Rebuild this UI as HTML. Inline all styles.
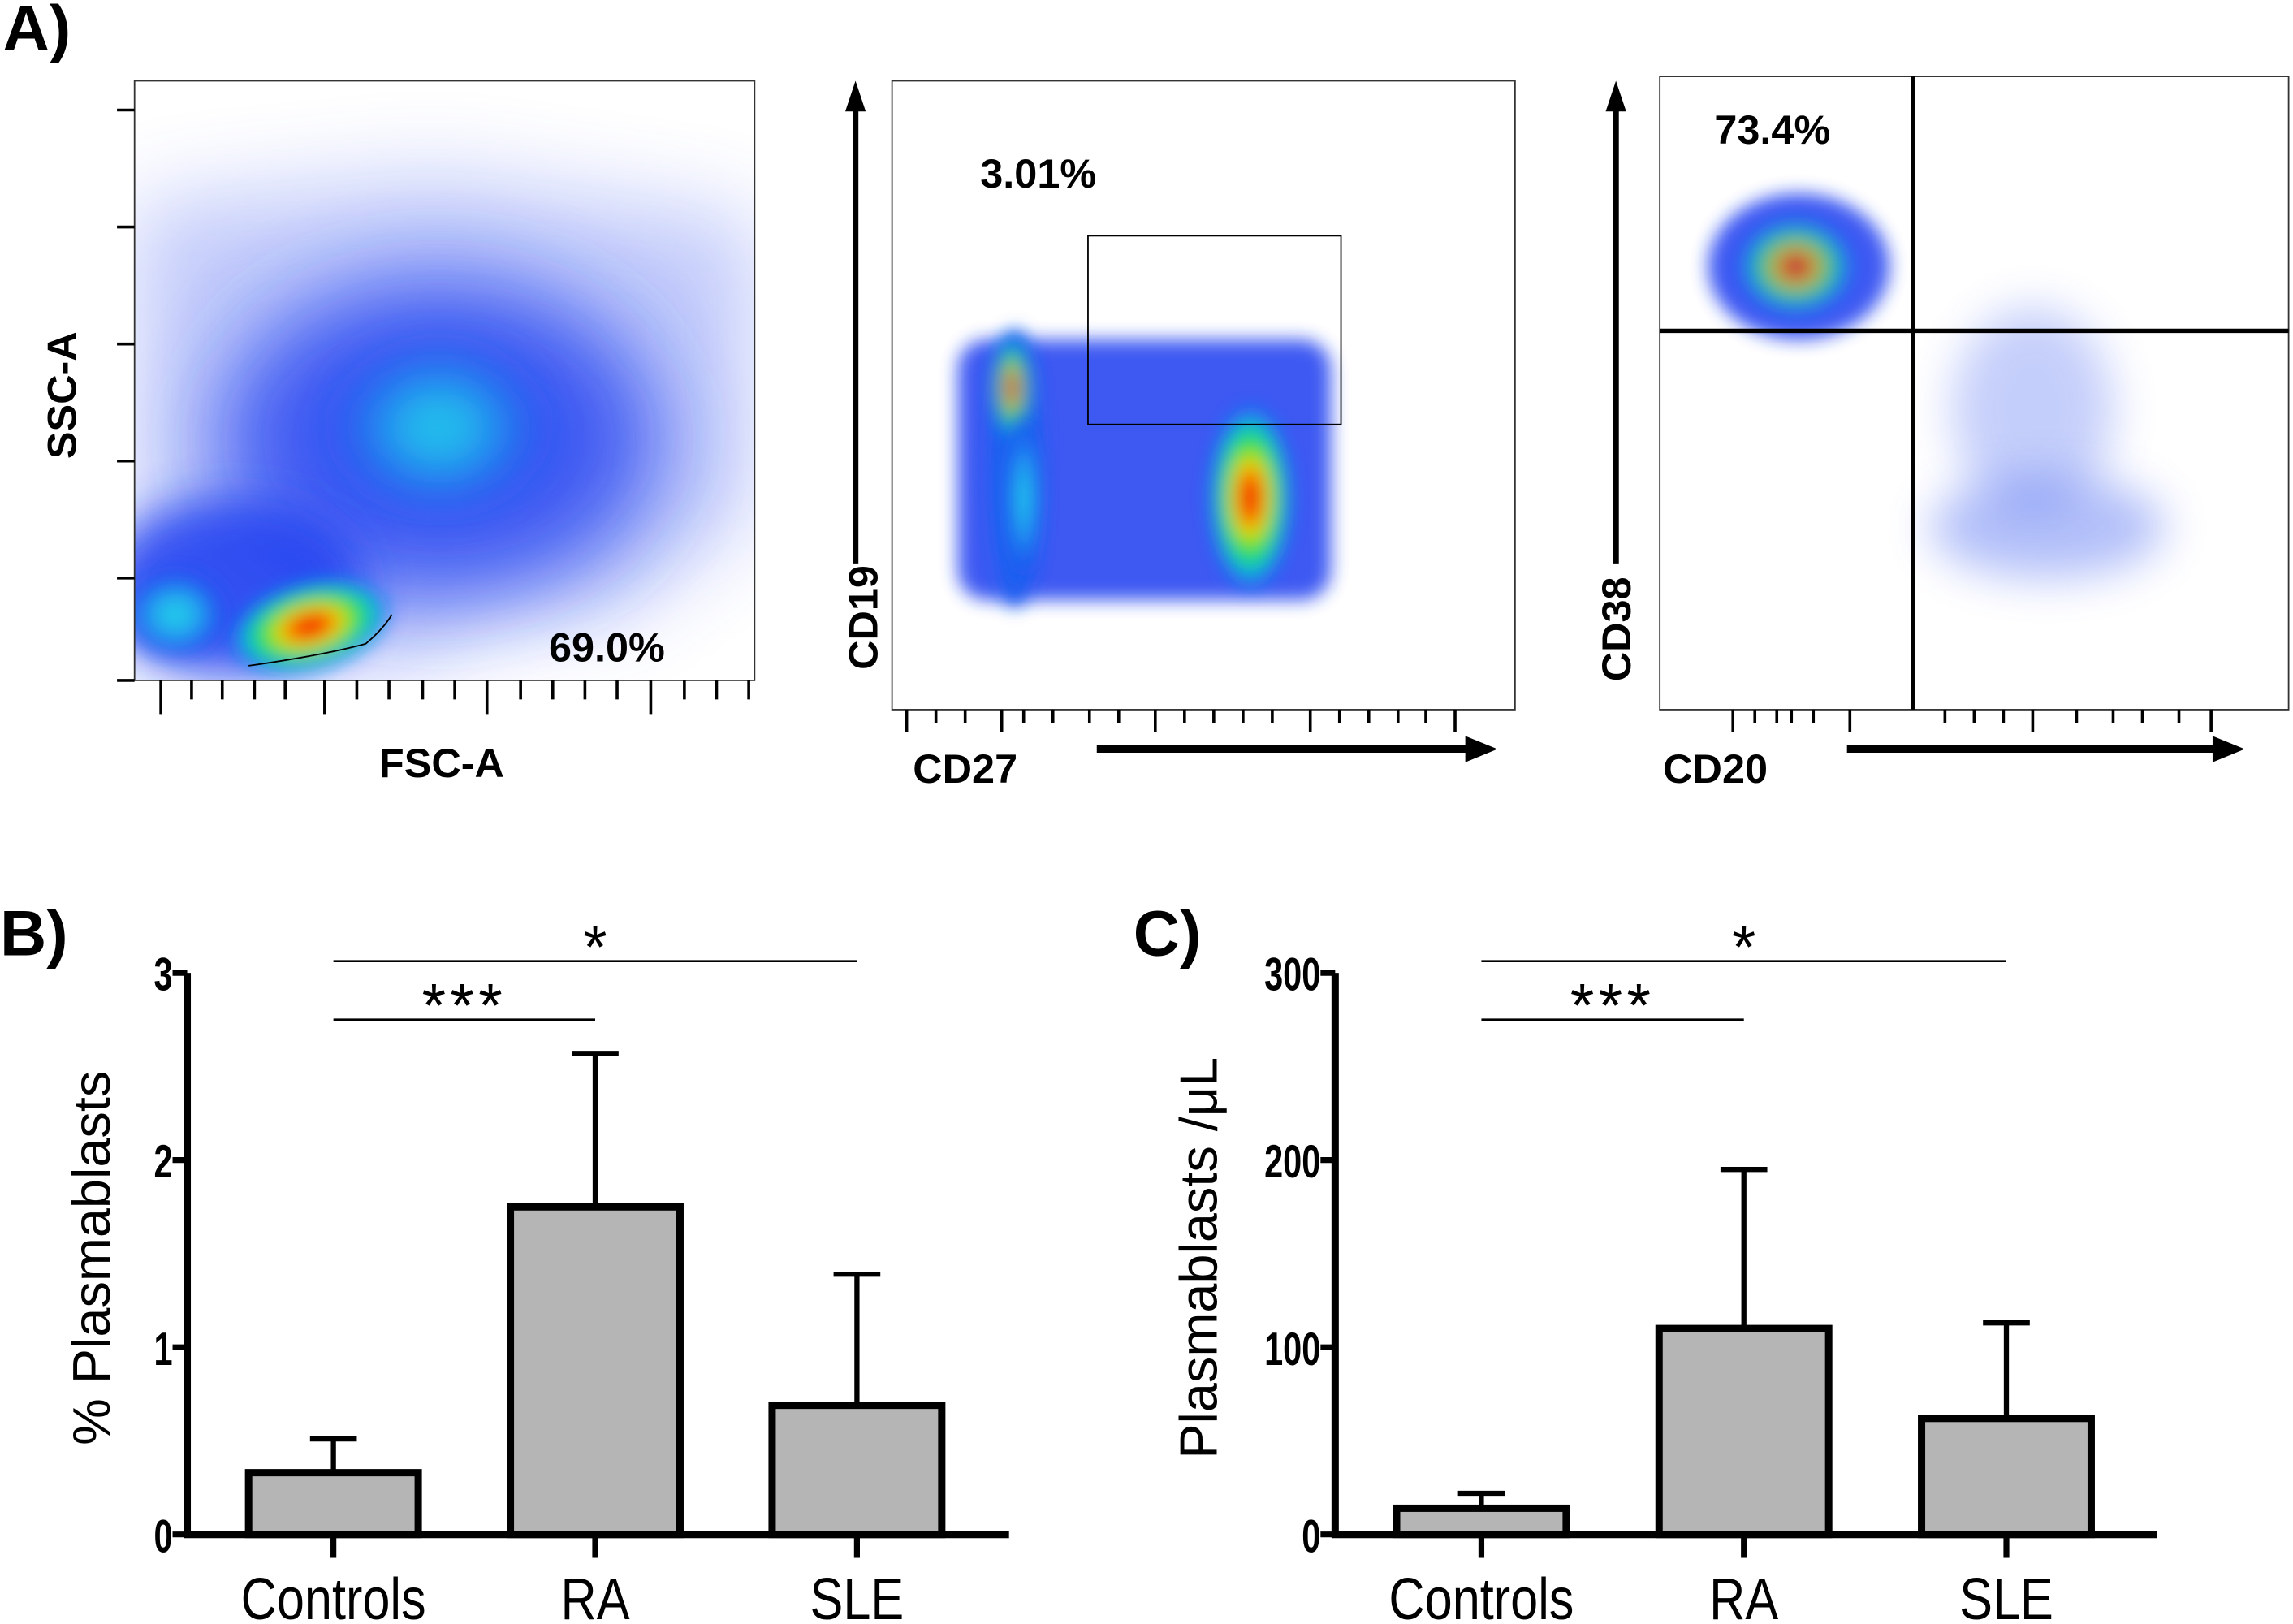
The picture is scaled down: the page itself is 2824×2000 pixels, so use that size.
<!DOCTYPE html>
<html><head><meta charset="utf-8">
<style>
html,body{margin:0;padding:0;background:#fff;}
svg{display:block;}
text{font-family:"Liberation Sans",Arial,sans-serif;}
</style></head>
<body>
<svg id="fig" width="2824" height="2000" viewBox="0 0 1568 1110" xmlns="http://www.w3.org/2000/svg">
<defs>
<filter id="b6" x="-50%" y="-50%" width="200%" height="200%"><feGaussianBlur stdDeviation="6"/></filter>
<filter id="b15" x="-50%" y="-50%" width="200%" height="200%"><feGaussianBlur stdDeviation="15"/></filter>
<filter id="b30" x="-50%" y="-50%" width="200%" height="200%"><feGaussianBlur stdDeviation="30"/></filter>
<radialGradient id="hot"><stop offset="0" stop-color="#e00000"/><stop offset="0.2" stop-color="#ff3000"/><stop offset="0.4" stop-color="#f0e000"/><stop offset="0.6" stop-color="#20e040"/><stop offset="0.8" stop-color="#10c8d0"/><stop offset="1" stop-color="#1060ff" stop-opacity="0.6"/></radialGradient>
<radialGradient id="cyan"><stop offset="0" stop-color="#20d8e8"/><stop offset="0.5" stop-color="#20a0f0"/><stop offset="1" stop-color="#1a40f0" stop-opacity="0.5"/></radialGradient>
<clipPath id="c1"><rect x="92" y="55" width="424" height="410"/></clipPath>
<clipPath id="c3"><rect x="1135" y="52" width="430" height="433"/></clipPath>
</defs>

<text x="2" y="34" font-size="44" font-weight="bold">A)</text>

<g>
 <g clip-path="url(#c1)">
  <path d="M92 140 L300 120 L516 150 L516 350 L420 420 L330 420 L280 455 L92 470 Z" fill="#3050f0" opacity="0.3" filter="url(#b30)"/>
  <ellipse cx="300" cy="300" rx="150" ry="110" fill="#1a3cf0" opacity="0.8" filter="url(#b30)"/>
  <ellipse cx="160" cy="400" rx="90" ry="60" fill="#1a3cf0" opacity="0.85" filter="url(#b15)"/>
  <ellipse cx="300" cy="292" rx="70" ry="55" fill="url(#cyan)" filter="url(#b15)"/>
  <ellipse cx="120" cy="420" rx="35" ry="30" fill="url(#cyan)" filter="url(#b6)"/>
  <ellipse cx="212" cy="428" rx="55" ry="30" transform="rotate(-15 212 428)" fill="url(#hot)" filter="url(#b6)"/>
  <path d="M170 455 Q220 448 250 440 Q262 430 268 420" stroke="#000" stroke-width="1" fill="none"/>
 </g>
 <rect x="92" y="55" width="424" height="410" fill="none" stroke="#333" stroke-width="1"/>
 <path d="M80 465 H92 M80 395 H92 M80 315 H92 M80 235 H92 M80 155 H92 M80 75 H92 M110 465 V488 M222 465 V488 M333 465 V488 M445 465 V488 M131 465 V478 M152 465 V478 M174 465 V478 M195 465 V478 M244 465 V478 M266 465 V478 M289 465 V478 M311 465 V478 M356 465 V478 M378 465 V478 M400 465 V478 M422 465 V478 M468 465 V478 M490 465 V478 M512 465 V478" stroke="#000" stroke-width="2"/>
 <text x="415" y="452" font-size="28" font-weight="bold" text-anchor="middle">69.0%</text>
 <text x="302" y="531" font-size="28" font-weight="bold" text-anchor="middle">FSC-A</text>
 <text transform="translate(52 270) rotate(-90)" font-size="28" font-weight="bold" text-anchor="middle">SSC-A</text>
</g>

<g>
 <rect x="610" y="55" width="426" height="430" fill="none" stroke="#333" stroke-width="1"/>
 <rect x="655" y="232" width="255" height="178" rx="20" fill="#1a3cf0" opacity="0.85" filter="url(#b6)"/>
 <ellipse cx="694" cy="320" rx="18" ry="95" fill="#1a60f0" filter="url(#b6)"/>
 <ellipse cx="692" cy="265" rx="14" ry="35" fill="url(#hot)" opacity="0.8" filter="url(#b6)"/>
 <ellipse cx="700" cy="340" rx="12" ry="55" fill="url(#cyan)" filter="url(#b6)"/>
 <ellipse cx="855" cy="340" rx="28" ry="62" fill="url(#hot)" filter="url(#b6)"/>
 <rect x="744" y="161" width="173" height="129" fill="none" stroke="#000" stroke-width="1"/>
 <path d="M620 485 V500 M685 485 V500 M790 485 V500 M896 485 V500 M995 485 V500 M640 485 V494 M660 485 V494 M700 485 V494 M720 485 V494 M745 485 V494 M765 485 V494 M810 485 V494 M830 485 V494 M850 485 V494 M870 485 V494 M916 485 V494 M936 485 V494 M956 485 V494 M975 485 V494" stroke="#000" stroke-width="2"/>
 <path d="M585 385 V72" stroke="#000" stroke-width="4"/>
 <path d="M578 76 L585 55 L592 76 Z" fill="#000"/>
 <path d="M750 512 H1005" stroke="#000" stroke-width="5"/>
 <path d="M1002 503 L1024 512 L1002 521 Z" fill="#000"/>
 <text x="710" y="128" font-size="28" font-weight="bold" text-anchor="middle">3.01%</text>
 <text x="660" y="535" font-size="28" font-weight="bold" text-anchor="middle">CD27</text>
 <text transform="translate(600 422) rotate(-90)" font-size="28" font-weight="bold" text-anchor="middle">CD19</text>
</g>

<g>
 <g clip-path="url(#c3)">
  <ellipse cx="1230" cy="182" rx="62" ry="50" fill="#1a3cf0" opacity="0.85" filter="url(#b6)"/>
  <ellipse cx="1228" cy="182" rx="38" ry="32" fill="url(#hot)" opacity="0.75" filter="url(#b6)"/>
  <ellipse cx="1390" cy="280" rx="55" ry="70" fill="#4060f0" opacity="0.3" filter="url(#b15)"/>
  <ellipse cx="1400" cy="360" rx="80" ry="35" fill="#4060f0" opacity="0.4" filter="url(#b15)"/>
 </g>
 <rect x="1135" y="52" width="430" height="433" fill="none" stroke="#333" stroke-width="1"/>
 <path d="M1135 226 H1565" stroke="#000" stroke-width="3"/>
 <path d="M1308 52 V485" stroke="#000" stroke-width="2.5"/>
 <path d="M1185 485 V500 M1265 485 V500 M1390 485 V500 M1512 485 V500 M1200 485 V494 M1215 485 V494 M1225 485 V494 M1240 485 V494 M1330 485 V494 M1350 485 V494 M1370 485 V494 M1420 485 V494 M1445 485 V494 M1465 485 V494 M1490 485 V494" stroke="#000" stroke-width="2"/>
 <path d="M1105 385 V72" stroke="#000" stroke-width="4"/>
 <path d="M1098 76 L1105 55 L1112 76 Z" fill="#000"/>
 <path d="M1263 512 H1515" stroke="#000" stroke-width="5"/>
 <path d="M1513 503 L1535 512 L1513 521 Z" fill="#000"/>
 <text x="1212" y="98" font-size="28" font-weight="bold" text-anchor="middle">73.4%</text>
 <text x="1173" y="535" font-size="28" font-weight="bold" text-anchor="middle">CD20</text>
 <text transform="translate(1115 430) rotate(-90)" font-size="28" font-weight="bold" text-anchor="middle">CD38</text>
</g>

<text x="0" y="653" font-size="44" font-weight="bold">B)</text>
<text x="775" y="653" font-size="44" font-weight="bold">C)</text>
<g id="chartB"></g>
<g id="chartC"></g>
</svg>
<script>
const categories = ["Controls", "RA", "SLE"];
const pctMeans = [0.33, 1.75, 0.69];
const pctErrors = [0.18, 0.82, 0.70];
const pctTicks = [0, 1, 2, 3];
const countMeans = [14, 110, 62];
const countErrors = [8, 85, 51];
const countTicks = [0, 100, 200, 300];

const NS = "http://www.w3.org/2000/svg";
function mk(parent, tag, attrs, text) {
  const e = document.createElementNS(NS, tag);
  for (const k in attrs) e.setAttribute(k, attrs[k]);
  if (text !== undefined) e.textContent = text;
  parent.appendChild(e);
  return e;
}
function drawChart(g, opt) {
  const y = v => opt.y0 - (v - opt.min) / (opt.max - opt.min) * (opt.y0 - opt.y1);
  const x = i => opt.xc0 + i * opt.step;
  const axis = mk(g, "path", {d: `M${opt.ax} ${opt.y1} V${opt.y0} H${opt.ax + 562}`, stroke: "#000", "stroke-width": 5, fill: "none"});
  
  
  opt.ticks.forEach(t => {
    const tk = mk(g, "path", {d: `M${opt.ax - 10} ${y(t)} H${opt.ax}`, stroke: "#000", "stroke-width": 4});
    
    
    const tx = opt.ax - 10;
    const tl = mk(g, "text", {x: tx, y: y(t) + 12, "font-size": 32, "font-weight": "bold", "text-anchor": "end", transform: `translate(${tx} 0) scale(0.72 1) translate(${-tx} 0)`}, String(t));
    
    
  });
  categories.forEach((c, i) => {
    const cx = x(i);
    const eb = mk(g, "path", {d: `M${cx} ${y(opt.means[i])} V${y(opt.means[i] + opt.errs[i])} M${cx - 16} ${y(opt.means[i] + opt.errs[i])} H${cx + 16}`, stroke: "#000", "stroke-width": 3.5});
    
    
    const bar = mk(g, "rect", {x: cx - 58, y: y(opt.means[i]), width: 116, height: opt.y0 - y(opt.means[i]), fill: "#b5b5b5", stroke: "#000", "stroke-width": 5});
    
    
    const tk = mk(g, "path", {d: `M${cx} ${opt.y0} V${opt.y0 + 16}`, stroke: "#000", "stroke-width": 4});
    
    
    const lb = mk(g, "text", {x: cx, y: opt.y0 + 58, "font-size": 40, "text-anchor": "middle", transform: `translate(${cx} 0) scale(0.85 1) translate(${-cx} 0)`}, c);
    
    
  });
  const s1 = mk(g, "path", {d: `M${x(0)} 697 H${x(1)} M${x(0)} 657 H${x(2)}`, stroke: "#000", "stroke-width": 1.5});
  
  
  const st3 = mk(g, "text", {x: (x(0) + x(1)) / 2, y: 702, "font-size": 42, "text-anchor": "middle", "letter-spacing": "3"}, "***");
  
  
  const st1 = mk(g, "text", {x: (x(0) + x(2)) / 2, y: 662, "font-size": 42, "text-anchor": "middle"}, "*");
  
  
  const yt = mk(g, "text", {transform: `translate(${opt.titleX} 860) rotate(-90)`, "font-size": 36, "text-anchor": "middle"}, opt.title);
  
  
}
drawChart(document.getElementById("chartB"), {ax: 128, y0: 1049, y1: 665, min: 0, max: 3, xc0: 228, step: 179, ticks: pctTicks, means: pctMeans, errs: pctErrors, title: "% Plasmablasts", titleX: 75});
drawChart(document.getElementById("chartC"), {ax: 913, y0: 1049, y1: 665, min: 0, max: 300, xc0: 1013, step: 179.5, ticks: countTicks, means: countMeans, errs: countErrors, title: "Plasmablasts /μL", titleX: 832});
</script>
</body></html>
